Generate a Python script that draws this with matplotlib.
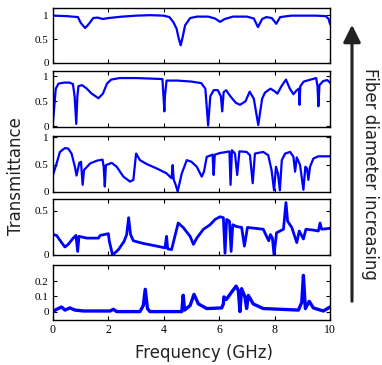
import matplotlib
matplotlib.use("Agg")
import matplotlib.pyplot as plt
from matplotlib.patches import FancyArrowPatch

# spectra, top (thinnest fiber) to bottom
freq1 = [0.0, 0.5, 0.9, 1.0, 1.16, 1.3, 1.45, 1.6, 1.8, 2.0, 2.5, 3.0, 3.5, 4.0, 4.2, 4.34, 4.46,
         4.54, 4.61, 4.68, 4.77, 4.95, 5.2, 5.6, 5.85, 6.03, 6.2, 6.5, 7.0, 7.25, 7.4, 7.55, 7.7,
         7.9, 8.06, 8.2, 8.6, 9.0, 9.5, 9.85, 9.95, 10.0]
trans1 = [0.99, 0.98, 0.96, 0.84, 0.73, 0.82, 0.94, 0.95, 0.92, 0.94, 0.97, 0.99, 1.0, 0.99, 0.96,
          0.86, 0.72, 0.51, 0.37, 0.54, 0.79, 0.94, 0.97, 0.97, 0.93, 0.86, 0.92, 0.97, 0.97, 0.93,
          0.75, 0.92, 0.96, 0.94, 0.82, 0.96, 0.99, 0.99, 0.99, 0.98, 0.92, 0.82]

freq2 = [0.0, 0.04, 0.1, 0.2, 0.4, 0.6, 0.72, 0.78, 0.84, 0.88, 0.92, 1.05, 1.2, 1.4, 1.64, 1.8,
         1.95, 2.1, 2.4, 3.0, 3.5, 3.95, 4.0, 4.02, 4.04, 4.1, 4.5, 5.0, 5.35, 5.5, 5.6, 5.68, 5.8,
         5.95, 6.06, 6.11, 6.16, 6.25, 6.4, 6.6, 6.75, 6.95, 7.1, 7.25, 7.41, 7.55, 7.65, 7.85, 8.0,
         8.1, 8.25, 8.41, 8.55, 8.68, 8.8, 8.88, 8.9, 8.93, 9.05, 9.3, 9.5, 9.55, 9.58, 9.62, 9.75,
         9.9, 10.0]
trans2 = [0.1, 0.35, 0.75, 0.85, 0.87, 0.87, 0.84, 0.6, 0.05, 0.6, 0.8, 0.82, 0.76, 0.65, 0.56,
          0.65, 0.85, 0.93, 0.96, 0.96, 0.95, 0.94, 0.5, 0.3, 0.6, 0.91, 0.91, 0.89, 0.86, 0.75, 0.02,
          0.6, 0.72, 0.72, 0.6, 0.3, 0.68, 0.72, 0.6, 0.47, 0.43, 0.5, 0.69, 0.55, 0.03, 0.55, 0.67,
          0.75, 0.7, 0.65, 0.8, 0.93, 0.75, 0.64, 0.72, 0.75, 0.43, 0.8, 0.89, 0.93, 0.96, 0.8, 0.4,
          0.82, 0.9, 0.92, 0.87]

freq3 = [0.0, 0.13, 0.25, 0.43, 0.55, 0.67, 0.79, 0.85, 0.95, 1.01, 1.07, 1.12, 1.34, 1.58, 1.79,
         1.83, 1.87, 1.91, 2.12, 2.3, 2.54, 2.78, 2.9, 3.0, 3.14, 3.38, 3.74, 4.1, 4.28, 4.32, 4.36,
         4.43, 4.5, 4.65, 4.83, 5.0, 5.19, 5.37, 5.45, 5.55, 5.76, 5.8, 5.84, 6.03, 6.27, 6.37, 6.41,
         6.46, 6.57, 6.65, 6.73, 6.99, 7.11, 7.21, 7.29, 7.59, 7.77, 7.89, 7.98, 8.05, 8.12, 8.19,
         8.26, 8.38, 8.56, 8.68, 8.74, 8.8, 8.92, 9.04, 9.11, 9.17, 9.22, 9.28, 9.4, 9.58, 10.0]
trans3 = [0.31, 0.52, 0.73, 0.8, 0.79, 0.7, 0.46, 0.3, 0.53, 0.55, 0.13, 0.4, 0.52, 0.57, 0.59,
          0.46, 0.1, 0.49, 0.53, 0.46, 0.28, 0.19, 0.22, 0.7, 0.58, 0.51, 0.43, 0.34, 0.25, 0.49,
          0.22, 0.13, 0.01, 0.34, 0.58, 0.55, 0.46, 0.28, 0.37, 0.64, 0.68, 0.31, 0.68, 0.71, 0.73,
          0.74, 0.13, 0.76, 0.7, 0.31, 0.74, 0.73, 0.67, 0.16, 0.7, 0.73, 0.67, 0.4, 0.03, 0.46,
          0.34, 0.03, 0.58, 0.7, 0.73, 0.64, 0.37, 0.63, 0.49, 0.04, 0.46, 0.43, 0.22, 0.46, 0.61,
          0.65, 0.65]

freq4 = [0.0, 0.13, 0.31, 0.43, 0.55, 0.73, 0.83, 0.89, 0.94, 1.22, 1.64, 1.7, 2.0, 2.03, 2.15,
         2.36, 2.56, 2.66, 2.73, 2.8, 2.9, 3.26, 3.74, 4.04, 4.1, 4.14, 4.28, 4.4, 4.52, 4.7, 4.95,
         5.07, 5.19, 5.43, 5.67, 5.85, 6.03, 6.15, 6.21, 6.27, 6.37, 6.43, 6.49, 6.63, 6.81, 6.91,
         7.02, 7.59, 7.71, 7.79, 7.85, 7.92, 7.98, 8.07, 8.32, 8.41, 8.47, 8.62, 8.8, 8.89, 9.04,
         9.13, 9.4, 9.58, 9.64, 9.7, 10.0]
trans4 = [0.23, 0.22, 0.14, 0.09, 0.12, 0.19, 0.22, 0.04, 0.21, 0.19, 0.19, 0.22, 0.24, 0.16, 0.0,
          0.06, 0.15, 0.23, 0.42, 0.23, 0.16, 0.13, 0.1, 0.08, 0.21, 0.07, 0.06, 0.21, 0.36, 0.31,
          0.21, 0.12, 0.19, 0.29, 0.34, 0.4, 0.43, 0.42, 0.02, 0.4, 0.38, 0.04, 0.34, 0.32, 0.31, 0.1,
          0.31, 0.29, 0.21, 0.16, 0.23, 0.19, 0.0, 0.25, 0.29, 0.59, 0.38, 0.31, 0.14, 0.27, 0.18,
          0.29, 0.28, 0.27, 0.36, 0.29, 0.3]

freq5 = [0.0, 0.13, 0.31, 0.43, 0.61, 0.79, 1.1, 2.06, 2.18, 2.3, 3.14, 3.26, 3.33, 3.41, 3.5,
         4.65, 4.7, 4.75, 4.95, 5.09, 5.25, 5.55, 6.09, 6.15, 6.17, 6.26, 6.45, 6.61, 6.69, 6.75,
         6.81, 6.93, 6.99, 7.05, 7.23, 7.59, 8.86, 8.98, 9.04, 9.11, 9.25, 9.4, 9.76, 10.0]
trans5 = [0.0, 0.015, 0.03, 0.01, 0.024, 0.01, 0.004, 0.004, 0.015, 0.0, 0.0, 0.04, 0.146, 0.02,
          0.0, 0.0, 0.107, 0.01, 0.04, 0.113, 0.05, 0.02, 0.024, 0.05, 0.096, 0.08, 0.128, 0.167,
          0.139, 0.0, 0.15, 0.096, 0.02, 0.106, 0.05, 0.02, 0.01, 0.06, 0.237, 0.02, 0.067, 0.024,
          0.004, 0.03]

freqs = [freq1, freq2, freq3, freq4, freq5]
transes = [trans1, trans2, trans3, trans4, trans5]
ylims = [(0, 1.15), (-0.01, 1.1), (0, 1.02), (0, 0.63), (-0.055, 0.305)]
yticks = [[0, 0.5, 1], [0, 0.5, 1], [0, 0.5, 1], [0, 0.5], [0, 0.1, 0.2]]
ytick_labels = [["0", "0.5", "1"], ["0", "0.5", "1"], ["0", "0.5", "1"], ["0", "0.5"], ["0", "0.1", "0.2"]]
xticks = [0, 2, 4, 6, 8, 10]

# axes boxes in pixels (top, bottom) of a 382x365 picture
W, H = 382.0, 365.0
boxes = [(8, 63), (71, 127), (136, 192), (199, 255), (265, 320)]
left_px, right_px = 53, 330
widths = [1.6, 1.6, 1.6, 2.0, 2.4]

fig = plt.figure(figsize=(3.82, 3.65), dpi=100)
serif = "Liberation Serif"

for i in range(5):
    top, bot = boxes[i]
    ax = fig.add_axes([left_px / W, 1 - bot / H, (right_px - left_px) / W, (bot - top) / H])
    ax.plot(freqs[i], transes[i], color="#0000ff", lw=widths[i], solid_joinstyle="round")
    ax.set_xlim(0, 10)
    ax.set_ylim(*ylims[i])
    ax.set_xticks(xticks)
    ax.set_yticks(yticks[i])
    ax.set_yticklabels(ytick_labels[i], fontfamily=serif, fontsize=8)
    ax.tick_params(direction="in", length=3, width=0.8, top=True, right=True, pad=3)
    if i == 4:
        ax.set_xticklabels([str(t) for t in xticks], fontfamily=serif, fontsize=8.5)
    else:
        ax.set_xticklabels([])
    for s in ax.spines.values():
        s.set_linewidth(1.0)

fig.text(16 / W, 1 - 176 / H, "Transmittance", rotation=90, ha="center", va="center",
         fontsize=12, color="#222222")
fig.text(204 / W, 1 - 353 / H, "Frequency (GHz)", ha="center", va="center",
         fontsize=12, color="#222222")
fig.text(370 / W, 1 - 174 / H, "Fiber diameter increasing", rotation=270, ha="center",
         va="center", fontsize=12, color="#222222")

arrow = FancyArrowPatch((352 / W, 1 - 304 / H), (352 / W, 1 - 22 / H), transform=fig.transFigure,
                        arrowstyle="-|>,head_length=7,head_width=3.5", lw=2.2, color="#222222",
                        mutation_scale=1.5)
fig.add_artist(arrow)

fig.savefig("out.png", dpi=100)
